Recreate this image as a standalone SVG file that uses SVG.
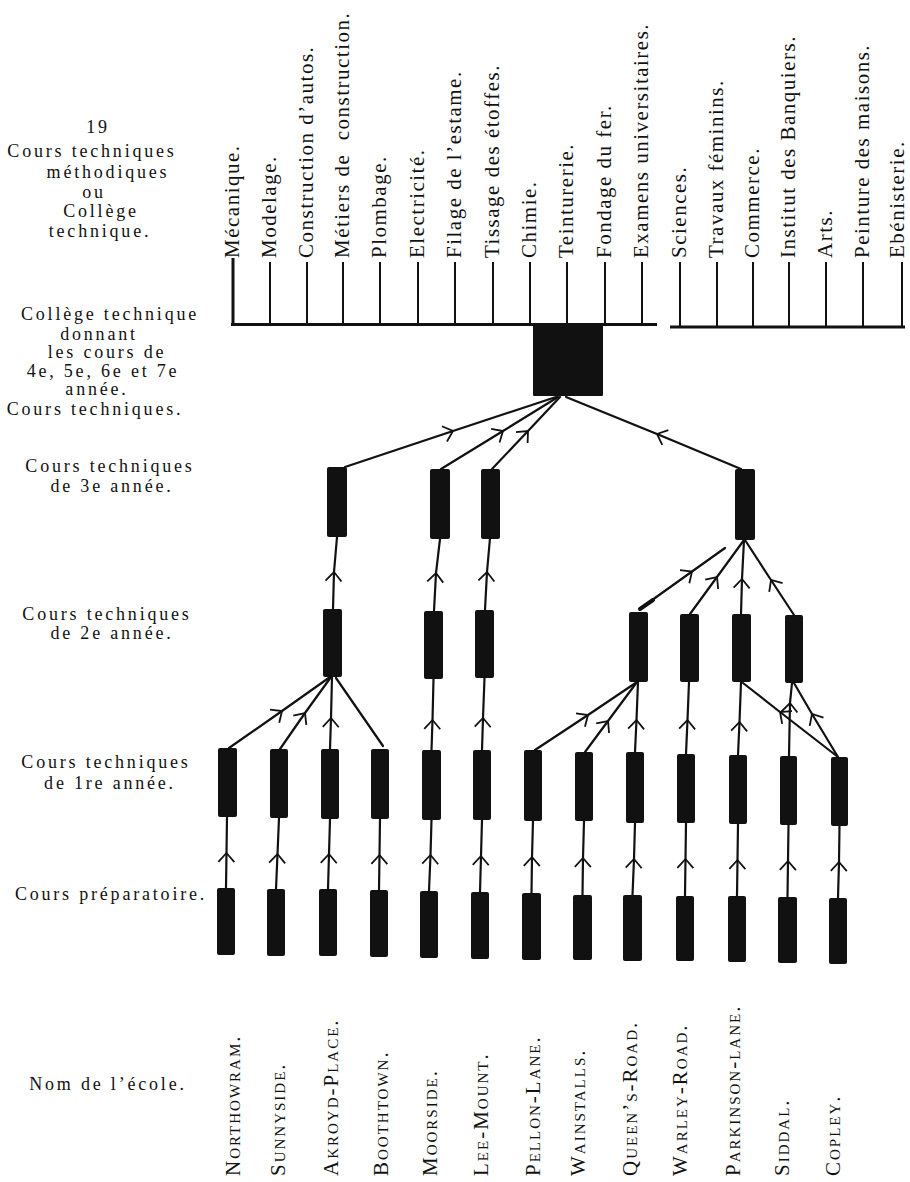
<svg xmlns="http://www.w3.org/2000/svg" width="910" height="1182" viewBox="0 0 910 1182">
<style>
text{font-family:"Liberation Serif","Times New Roman",serif;font-size:21px;fill:#111;letter-spacing:1.5px}
.l{text-anchor:middle;font-size:18px;letter-spacing:2.8px}
.sc{font-variant:small-caps;letter-spacing:2px}
.box{fill:#111}
.ln{stroke:#111;stroke-width:2.2;fill:none;stroke-linecap:round}
.ar{marker-mid:url(#chev)}
.tk{stroke:#111;stroke-width:2;fill:none}
.bar{stroke:#111;stroke-width:3;fill:none}
</style>
<defs>
<marker id="chev" markerUnits="userSpaceOnUse" viewBox="-12 -12 24 24" markerWidth="24" markerHeight="24" refX="0" refY="0" orient="auto">
<path d="M-9,-8 L0,0 L-9,8" fill="none" stroke="#111" stroke-width="1.8"/>
</marker>
</defs>

<g id="row-labels">
<text class="l" x="98" y="133">19</text>
<text class="l" x="92" y="157">Cours techniques</text>
<text class="l" x="108" y="178">méthodiques</text>
<text class="l" x="94" y="198">ou</text>
<text class="l" x="101" y="217">Collège</text>
<text class="l" x="100" y="237">technique.</text>
<text class="l" x="110" y="320">Collège technique</text>
<text class="l" x="99" y="340">donnant</text>
<text class="l" x="107" y="358">les cours de</text>
<text class="l" x="103" y="377">4e, 5e, 6e et 7e</text>
<text class="l" x="97" y="395">année.</text>
<text class="l" x="95" y="415">Cours techniques.</text>
<text class="l" x="110" y="472">Cours techniques</text>
<text class="l" x="112" y="492">de 3e année.</text>
<text class="l" x="107" y="620">Cours techniques</text>
<text class="l" x="112" y="639">de 2e année.</text>
<text class="l" x="106" y="768">Cours techniques</text>
<text class="l" x="110" y="789">de 1re année.</text>
<text class="l" x="111" y="900">Cours préparatoire.</text>
<text class="l" x="108" y="1090">Nom de l’école.</text>
</g>

<g id="college-courses">
<path class="tk" d="M233,260V325 M270,262V325 M307,262V325 M343,262V325 M380,262V325 M418,262V325 M455,262V325 M493,262V325 M530,262V325 M567,262V325 M605,262V325 M642,262V325"/>
<path class="tk" d="M680,262V327 M717,262V327 M753,262V327 M789,262V327 M826,262V327 M863,262V327 M902,262V327"/>
<path class="bar" d="M231,324.5H657 M670,327H905"/>
<path d="M233,258V326" stroke="#111" stroke-width="3"/>
<text transform="translate(239,258) rotate(-90)">Mécanique.</text>
<text transform="translate(276,258) rotate(-90)">Modelage.</text>
<text transform="translate(313,258) rotate(-90)">Construction d’autos.</text>
<text transform="translate(349,258) rotate(-90)" xml:space="preserve">Métiers de  construction.</text>
<text transform="translate(386,258) rotate(-90)">Plombage.</text>
<text transform="translate(424,258) rotate(-90)">Electricité.</text>
<text transform="translate(461,258) rotate(-90)">Filage de l’estame.</text>
<text transform="translate(499,258) rotate(-90)">Tissage des étoffes.</text>
<text transform="translate(536,258) rotate(-90)">Chimie.</text>
<text transform="translate(573,258) rotate(-90)">Teinturerie.</text>
<text transform="translate(611,258) rotate(-90)">Fondage du fer.</text>
<text transform="translate(648,258) rotate(-90)">Examens universitaires.</text>
<text transform="translate(686,258) rotate(-90)">Sciences.</text>
<text transform="translate(723,258) rotate(-90)">Travaux féminins.</text>
<text transform="translate(759,258) rotate(-90)">Commerce.</text>
<text transform="translate(795,258) rotate(-90)">Institut des Banquiers.</text>
<text transform="translate(832,258) rotate(-90)">Arts.</text>
<text transform="translate(869,258) rotate(-90)">Peinture des maisons.</text>
<text transform="translate(904,258) rotate(-90)">Ebénisterie.</text>
</g>

<g id="college"><rect class="box" x="533" y="323" width="70" height="73" rx="1"/></g>

<g id="y3-1"><rect class="box" x="327" y="467" width="20" height="70" rx="2"/></g>
<g id="y3-2"><rect class="box" x="430" y="469" width="20" height="70" rx="2"/></g>
<g id="y3-3"><rect class="box" x="481" y="469" width="19" height="70" rx="2"/></g>
<g id="y3-4"><rect class="box" x="735" y="469" width="20" height="71" rx="2"/></g>

<g id="y2-akroyd"><rect class="box" x="323" y="609" width="19" height="68" rx="2"/></g>
<g id="y2-moorside"><rect class="box" x="424" y="611" width="19" height="68" rx="2"/></g>
<g id="y2-leemount"><rect class="box" x="475" y="610" width="19" height="68" rx="2"/></g>
<g id="y2-queens"><rect class="box" x="629" y="612" width="19" height="70" rx="2"/></g>
<g id="y2-warley"><rect class="box" x="680" y="614" width="19" height="68" rx="2"/></g>
<g id="y2-parkinson"><rect class="box" x="732" y="614" width="19" height="68" rx="2"/></g>
<g id="y2-siddal"><rect class="box" x="785" y="615" width="18" height="68" rx="2"/></g>

<g id="y1-northowram"><rect class="box" x="218" y="748" width="19" height="69" rx="2"/></g>
<g id="y1-sunnyside"><rect class="box" x="270" y="749" width="18" height="69" rx="2"/></g>
<g id="y1-akroyd"><rect class="box" x="321" y="749" width="18" height="70" rx="2"/></g>
<g id="y1-boothtown"><rect class="box" x="371" y="749" width="18" height="70" rx="2"/></g>
<g id="y1-moorside"><rect class="box" x="422" y="750" width="19" height="70" rx="2"/></g>
<g id="y1-leemount"><rect class="box" x="473" y="750" width="18" height="70" rx="2"/></g>
<g id="y1-pellon"><rect class="box" x="524" y="750" width="18" height="71" rx="2"/></g>
<g id="y1-wainstalls"><rect class="box" x="575" y="752" width="18" height="69" rx="2"/></g>
<g id="y1-queens"><rect class="box" x="626" y="752" width="18" height="71" rx="2"/></g>
<g id="y1-warley"><rect class="box" x="677" y="754" width="18" height="69" rx="2"/></g>
<g id="y1-parkinson"><rect class="box" x="729" y="755" width="18" height="69" rx="2"/></g>
<g id="y1-siddal"><rect class="box" x="780" y="756" width="17" height="69" rx="2"/></g>
<g id="y1-copley"><rect class="box" x="831" y="757" width="17" height="69" rx="2"/></g>

<g id="prep-northowram"><rect class="box" x="217" y="888" width="18" height="67" rx="2"/></g>
<g id="prep-sunnyside"><rect class="box" x="267" y="889" width="18" height="67" rx="2"/></g>
<g id="prep-akroyd"><rect class="box" x="319" y="889" width="18" height="67" rx="2"/></g>
<g id="prep-boothtown"><rect class="box" x="370" y="890" width="18" height="67" rx="2"/></g>
<g id="prep-moorside"><rect class="box" x="420" y="891" width="18" height="67" rx="2"/></g>
<g id="prep-leemount"><rect class="box" x="471" y="892" width="18" height="67" rx="2"/></g>
<g id="prep-pellon"><rect class="box" x="522" y="893" width="19" height="67" rx="2"/></g>
<g id="prep-wainstalls"><rect class="box" x="573" y="895" width="19" height="65" rx="2"/></g>
<g id="prep-queens"><rect class="box" x="623" y="895" width="19" height="66" rx="2"/></g>
<g id="prep-warley"><rect class="box" x="676" y="896" width="18" height="65" rx="2"/></g>
<g id="prep-parkinson"><rect class="box" x="728" y="896" width="18" height="66" rx="2"/></g>
<g id="prep-siddal"><rect class="box" x="778" y="897" width="19" height="66" rx="2"/></g>
<g id="prep-copley"><rect class="box" x="829" y="898" width="18" height="66" rx="2"/></g>

<g id="connectors">
<path class="ln ar" d="M226,888 L226.5,853 L227,817"/>
<path class="ln ar" d="M276,889 L277.5,854 L279,818"/>
<path class="ln ar" d="M328,889 L329,854 L330,819"/>
<path class="ln ar" d="M379,890 L379.5,855 L380,819"/>
<path class="ln ar" d="M429,891 L430.5,855 L431.5,820"/>
<path class="ln ar" d="M480,892 L481,856 L482,820"/>
<path class="ln ar" d="M531.5,893 L532,857 L533,821"/>
<path class="ln ar" d="M582.5,895 L583,858 L584,821"/>
<path class="ln ar" d="M632.5,895 L634,859 L635,823"/>
<path class="ln ar" d="M685,896 L685.5,859 L686,823"/>
<path class="ln ar" d="M737,896 L737.5,860 L738,824"/>
<path class="ln ar" d="M787.5,897 L788,861 L788.5,825"/>
<path class="ln ar" d="M838,898 L839,862 L839.5,826"/>
<path class="ln ar" d="M229,748 L282,711 L330,677"/>
<path class="ln ar" d="M280,749 L305,713 L331,677"/>
<path class="ln ar" d="M330,749 L331,718 L332,677"/>
<path class="ln" d="M336,678 L383,746"/>
<path class="ln ar" d="M431.5,750 L432.5,720 L433.5,679"/>
<path class="ln ar" d="M482,750 L483,718 L484.5,678"/>
<path class="ln ar" d="M535,750 L588,715 L637,682"/>
<path class="ln ar" d="M585,752 L608,721 L637,682"/>
<path class="ln ar" d="M635,752 L636.5,720 L638,682"/>
<path class="ln ar" d="M686,754 L687.5,720 L689,682"/>
<path class="ln ar" d="M738,755 L739.5,722 L741,682"/>
<path class="ln ar" d="M789,756 L790,703 L792,683"/>
<path class="ln ar" d="M838,757 L812,714 L794,683"/>
<path class="ln ar" d="M838,757 L780,712 L743,683"/>
<path class="ln ar" d="M333,609 L334,572 L337,537"/>
<path class="ln ar" d="M434,611 L436,573 L440,539"/>
<path class="ln ar" d="M485,610 L487,572 L490,538"/>
<path class="ln ar" d="M641,608 L692,571.5 L725,548"/>
<path d="M640,609 L653,600" stroke="#111" stroke-width="4" stroke-linecap="round"/>
<path class="ln ar" d="M690,614 L717,577 L744,540"/>
<path class="ln ar" d="M741,614 L742,579 L744,540"/>
<path class="ln ar" d="M794,615 L771,580 L745,540"/>
<path class="ln ar" d="M345,467 L453,431 L556,397"/>
<path class="ln ar" d="M441,469 L503,431 L558,397"/>
<path class="ln ar" d="M492,469 L528,431 L560,397"/>
<path class="ln ar" d="M741,469 L657,434 L566,397"/>
</g>

<g id="school-names">
<text class="sc" transform="translate(240,1176) rotate(-90)">Northowram.</text>
<text class="sc" transform="translate(285,1176) rotate(-90)">Sunnyside.</text>
<text class="sc" transform="translate(338,1176) rotate(-90)">Akroyd-Place.</text>
<text class="sc" transform="translate(388,1176) rotate(-90)">Boothtown.</text>
<text class="sc" transform="translate(437,1176) rotate(-90)">Moorside.</text>
<text class="sc" transform="translate(488,1176) rotate(-90)">Lee-Mount.</text>
<text class="sc" transform="translate(540,1176) rotate(-90)">Pellon-Lane.</text>
<text class="sc" transform="translate(585,1176) rotate(-90)">Wainstalls.</text>
<text class="sc" transform="translate(637,1176) rotate(-90)">Queen’s-Road.</text>
<text class="sc" transform="translate(687,1176) rotate(-90)">Warley-Road.</text>
<text class="sc" transform="translate(740,1176) rotate(-90)">Parkinson-lane.</text>
<text class="sc" transform="translate(789,1176) rotate(-90)">Siddal.</text>
<text class="sc" transform="translate(840,1176) rotate(-90)">Copley.</text>
</g>
</svg>
